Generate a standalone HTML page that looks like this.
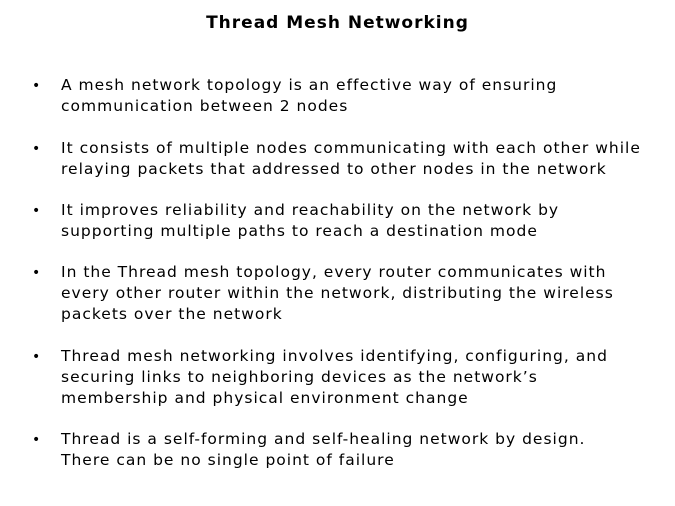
<!DOCTYPE html>
<html><head><meta charset="utf-8"><style>
body{margin:0;width:675px;height:506px;background:#fff;position:relative;font-family:"DejaVu Sans","Liberation Sans",sans-serif;color:#000;overflow:hidden}
.t{position:absolute;top:11px;left:0;width:675px;text-align:center;font-weight:bold;font-size:17px;line-height:24px;letter-spacing:1px}
.b{position:absolute;left:32px;font-size:15.5px;line-height:21px;white-space:nowrap;letter-spacing:1px}
.b span{position:absolute;left:29px;top:0}
.b i{font-style:normal;font-size:14px}
</style></head><body>
<div class="t">Thread Mesh Networking</div>
<div class="b" style="top:75px"><i>•</i><span>A mesh network topology is an effective way of ensuring<br>communication between 2 nodes</span></div>
<div class="b" style="top:138px"><i>•</i><span>It consists of multiple nodes communicating with each other while<br>relaying packets that addressed to other nodes in the network</span></div>
<div class="b" style="top:200px"><i>•</i><span>It improves reliability and reachability on the network by<br>supporting multiple paths to reach a destination mode</span></div>
<div class="b" style="top:262px"><i>•</i><span>In the Thread mesh topology, every router communicates with<br>every other router within the network, distributing the wireless<br>packets over the network</span></div>
<div class="b" style="top:346px"><i>•</i><span>Thread mesh networking involves identifying, configuring, and<br>securing links to neighboring devices as the network’s<br>membership and physical environment change</span></div>
<div class="b" style="top:429px"><i>•</i><span>Thread is a self-forming and self-healing network by design.<br>There can be no single point of failure</span></div>
</body></html>
